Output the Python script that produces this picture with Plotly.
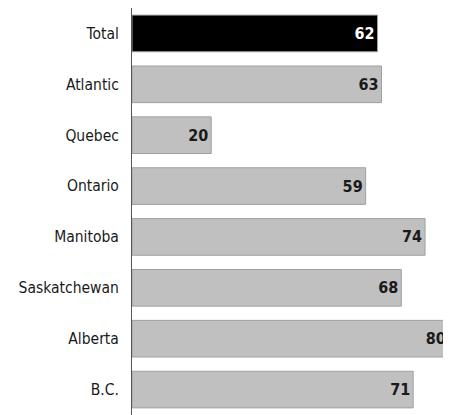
import plotly.graph_objects as go

categories = ["Total", "Atlantic", "Quebec", "Ontario", "Manitoba", "Saskatchewan", "Alberta", "B.C."]
values = [62, 63, 20, 59, 74, 68, 80, 71]
colors = ["#000000"] + ["#c0c0c0"] * 7
text_colors = ["#ffffff"] + ["#1a1a1a"] * 7

FONT = "'Liberation Sans Narrow', 'DejaVu Sans Condensed', 'Arial Narrow', sans-serif"

fig = go.Figure(go.Bar(
    x=values,
    y=categories,
    orientation="h",
    marker=dict(color=colors, line=dict(color="#a0a0a0", width=1)),
    width=0.72,
    text=[f"<b>{v}</b>" for v in values],
    textposition="inside",
    insidetextanchor="end",
    textfont=dict(family=FONT, size=16, color=text_colors),
    cliponaxis=False,
))

# page body has an 8px margin, so the figure is sized to fit the 451x415 window
fig.update_layout(
    width=443, height=407,
    margin=dict(l=124, r=1, t=0, b=0),
    paper_bgcolor="white", plot_bgcolor="white",
    showlegend=False,
    font=dict(family=FONT, color="#1a1a1a"),
    xaxis=dict(range=[0, 80.3], visible=False, showgrid=False, zeroline=False, automargin=False),
    yaxis=dict(
        categoryorder="array", categoryarray=categories, autorange="reversed",
        showline=True, linecolor="#555555", linewidth=1,
        showgrid=False, zeroline=False, ticks="", automargin=False,
        tickfont=dict(family=FONT, size=15.5, color="#1a1a1a"),
        ticklabelstandoff=9,
    ),
)

fig.write_html("out.html")
